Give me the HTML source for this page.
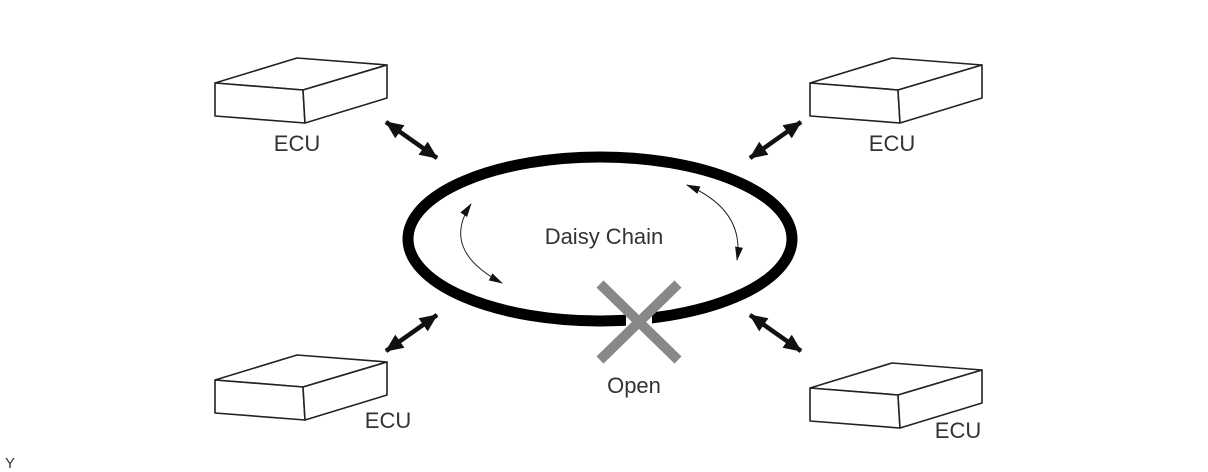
<!DOCTYPE html>
<html><head><style>body{margin:0;background:#fff}svg{display:block}</style></head><body>
<svg width="1208" height="472" viewBox="0 0 1208 472" xmlns="http://www.w3.org/2000/svg" font-family="Liberation Sans, sans-serif">
<defs>
<g id="box" fill="#fff" stroke="#222" stroke-width="1.6" stroke-linejoin="round">
<polygon points="215,83 297,58 387,65 303,90"/>
<polygon points="215,83 303,90 305,123 215,116"/>
<polygon points="303,90 387,65 387,98 305,123"/>
</g>
<marker id="ahs" markerWidth="14" markerHeight="10" refX="13" refY="5" orient="auto-start-reverse" markerUnits="userSpaceOnUse"><path d="M0,1 L14,5 L0,9 z" fill="#111"/></marker>
<marker id="ahb" markerWidth="18" markerHeight="16" refX="17" refY="8" orient="auto-start-reverse" markerUnits="userSpaceOnUse"><path d="M0,0 L18,8 L0,16 z" fill="#111"/></marker>
</defs>
<use href="#box"/>
<use href="#box" transform="translate(595,0)"/>
<use href="#box" transform="translate(0,297)"/>
<use href="#box" transform="translate(595,305)"/>
<g font-size="22" fill="#333" text-anchor="middle">
<text x="297" y="151">ECU</text>
<text x="892" y="151">ECU</text>
<text x="388" y="428">ECU</text>
<text x="958" y="438">ECU</text>
<text x="634" y="393">Open</text>
<text x="604" y="244">Daisy Chain</text>
</g>
<text x="5" y="468" font-size="15" fill="#333">Y</text>
<ellipse cx="600" cy="239" rx="192" ry="82" fill="none" stroke="#000" stroke-width="11"/>
<rect x="626" y="310" width="26" height="20" fill="#fff"/>
<g stroke="#888" stroke-width="10">
<line x1="600" y1="284" x2="678" y2="360"/>
<line x1="678" y1="284" x2="600" y2="360"/>
</g>
<g stroke="#111" stroke-width="4.5" fill="none">
<line x1="386" y1="122" x2="437" y2="158" marker-start="url(#ahb)" marker-end="url(#ahb)"/>
<line x1="801" y1="122" x2="750" y2="158" marker-start="url(#ahb)" marker-end="url(#ahb)"/>
<line x1="437" y1="315" x2="386" y2="351" marker-start="url(#ahb)" marker-end="url(#ahb)"/>
<line x1="750" y1="315" x2="801" y2="351" marker-start="url(#ahb)" marker-end="url(#ahb)"/>
</g>
<g stroke="#222" stroke-width="1" fill="none">
<path d="M471,204 Q440,250 502,283" marker-start="url(#ahs)" marker-end="url(#ahs)"/>
<path d="M687,185 Q745,210 737,260" marker-start="url(#ahs)" marker-end="url(#ahs)"/>
</g>
</svg>
</body></html>
